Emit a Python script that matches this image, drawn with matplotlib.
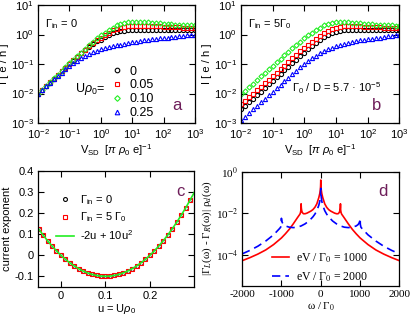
import numpy as np
import matplotlib
matplotlib.use("Agg")
import matplotlib.pyplot as plt

plt.rcParams['font.family'] = ['Liberation Sans', 'DejaVu Sans']
plt.rcParams['font.size'] = 8
plt.rcParams['mathtext.fontset'] = 'custom'
plt.rcParams['mathtext.rm'] = 'Liberation Sans'
plt.rcParams['mathtext.it'] = 'Liberation Sans:italic'

v_sd = np.logspace(-2, 3, 41)
u_labels = ['0', '0.05', '0.10', '0.25']

logI_a_u000 = [-2.00, -1.875, -1.75, -1.625, -1.50, -1.375, -1.25, -1.125, -1.00, -0.88,
               -0.76, -0.64, -0.52, -0.41, -0.31, -0.23, -0.17, -0.09, -0.02, 0.04,
               0.08, 0.11, 0.13, 0.14, 0.15, 0.152, 0.155, 0.155, 0.158, 0.158,
               0.16, 0.16, 0.163, 0.163, 0.166, 0.166, 0.166, 0.17, 0.17, 0.17, 0.172]
logI_a_u005 = [-2.00, -1.873, -1.747, -1.621, -1.496, -1.371, -1.246, -1.119, -0.99, -0.87,
               -0.75, -0.63, -0.51, -0.40, -0.29, -0.19, -0.11, -0.02, 0.07, 0.14,
               0.20, 0.24, 0.27, 0.285, 0.29, 0.295, 0.295, 0.29, 0.29, 0.285,
               0.28, 0.275, 0.27, 0.26, 0.255, 0.25, 0.245, 0.24, 0.235, 0.23, 0.225]
logI_a_u010 = [-2.00, -1.870, -1.742, -1.616, -1.489, -1.364, -1.237, -1.110, -0.98, -0.86,
               -0.73, -0.61, -0.48, -0.36, -0.24, -0.13, -0.03, 0.07, 0.16, 0.24,
               0.31, 0.36, 0.39, 0.41, 0.42, 0.425, 0.425, 0.42, 0.41, 0.40,
               0.39, 0.38, 0.37, 0.36, 0.35, 0.34, 0.335, 0.33, 0.32, 0.315, 0.31]
logI_a_u025 = [-2.00, -1.88, -1.76, -1.64, -1.52, -1.40, -1.29, -1.18, -1.07, -0.97,
               -0.88, -0.80, -0.72, -0.65, -0.59, -0.54, -0.50, -0.46, -0.43, -0.40,
               -0.37, -0.34, -0.31, -0.285, -0.26, -0.24, -0.22, -0.20, -0.18, -0.16,
               -0.145, -0.13, -0.115, -0.10, -0.085, -0.07, -0.055, -0.04, -0.025, -0.01, 0.0]

logI_b_u000 = [-2.53, -2.41, -2.29, -2.17, -2.05, -1.93, -1.81, -1.69, -1.57, -1.45,
               -1.33, -1.21, -1.09, -0.97, -0.85, -0.73, -0.61, -0.50, -0.39, -0.28,
               -0.18, -0.09, -0.01, 0.05, 0.10, 0.13, 0.15, 0.16, 0.165, 0.17,
               0.17, 0.17, 0.17, 0.17, 0.17, 0.17, 0.17, 0.17, 0.17, 0.17, 0.17]
logI_b_u005 = [-2.37, -2.25, -2.13, -2.01, -1.89, -1.77, -1.65, -1.53, -1.41, -1.29,
               -1.17, -1.05, -0.93, -0.81, -0.69, -0.57, -0.46, -0.35, -0.24, -0.14,
               -0.05, 0.04, 0.12, 0.18, 0.23, 0.26, 0.28, 0.285, 0.285, 0.28,
               0.275, 0.27, 0.265, 0.26, 0.25, 0.245, 0.24, 0.235, 0.23, 0.225, 0.22]
logI_b_u010 = [-2.02, -1.90, -1.78, -1.66, -1.54, -1.42, -1.30, -1.18, -1.06, -0.94,
               -0.82, -0.70, -0.58, -0.46, -0.35, -0.24, -0.13, -0.03, 0.07, 0.16,
               0.24, 0.31, 0.36, 0.39, 0.41, 0.42, 0.42, 0.41, 0.40, 0.39,
               0.38, 0.37, 0.36, 0.35, 0.34, 0.33, 0.32, 0.315, 0.31, 0.30, 0.29]
logI_b_u025 = [-2.90, -2.78, -2.66, -2.54, -2.42, -2.30, -2.18, -2.06, -1.94, -1.82,
               -1.70, -1.58, -1.46, -1.34, -1.22, -1.11, -1.00, -0.90, -0.80, -0.71,
               -0.63, -0.56, -0.50, -0.45, -0.40, -0.36, -0.32, -0.29, -0.26, -0.23,
               -0.20, -0.18, -0.16, -0.14, -0.12, -0.10, -0.08, -0.06, -0.04, -0.02, 0.0]

# --- panel c: current exponent vs u ---
u_vals = [-0.05, -0.04, -0.03, -0.02, -0.01, 0.0, 0.01, 0.02, 0.03, 0.04, 0.05, 0.06,
          0.07, 0.08, 0.09, 0.10, 0.11, 0.12, 0.13, 0.14, 0.15, 0.16, 0.17, 0.18,
          0.19, 0.20, 0.21, 0.22, 0.23, 0.24, 0.25, 0.26, 0.27, 0.28, 0.29]
exp_gin0 = [0.125, 0.096, 0.069, 0.044, 0.021, 0.0, -0.019, -0.036, -0.051, -0.064, -0.075,
            -0.084, -0.091, -0.096, -0.099, -0.100, -0.099, -0.096, -0.091, -0.084, -0.075,
            -0.064, -0.051, -0.036, -0.019, 0.0, 0.021, 0.044, 0.069, 0.096, 0.125, 0.156,
            0.189, 0.224, 0.261]
exp_gin5 = exp_gin0
fit_u = u_vals + [0.30]
fit_vals = exp_gin0 + [0.300]

# --- panel d: |Gamma_L - Gamma_R| rho_d (log10), omega >= 0, symmetric ---
w_1000 = [0, 5, 10, 25, 50, 100, 150, 200, 250, 300, 350, 400, 440, 470, 485, 495, 500,
          505, 515, 530, 560, 600, 700, 800, 900, 1000, 1200, 1400, 1600, 1800, 2000]
log_d_1000 = [-0.40, -0.70, -0.85, -1.05, -1.25, -1.55, -1.72, -1.83, -1.90, -1.95, -2.00,
              -2.03, -2.03, -1.97, -1.88, -1.75, -1.55, -1.85, -1.97, -2.05, -2.13, -2.24,
              -2.52, -2.78, -3.00, -3.20, -3.52, -3.78, -3.98, -4.15, -4.30]
w_2000 = [0, 5, 10, 25, 50, 100, 150, 200, 300, 400, 500, 600, 700, 800, 900, 950, 980,
          995, 1000, 1005, 1020, 1050, 1100, 1200, 1400, 1600, 1800, 2000]
log_d_2000 = [-0.80, -1.05, -1.20, -1.42, -1.62, -1.88, -2.05, -2.18, -2.38, -2.52, -2.62,
              -2.68, -2.70, -2.68, -2.62, -2.55, -2.45, -2.35, -2.25, -2.55, -2.68, -2.75,
              -2.85, -3.05, -3.35, -3.60, -3.80, -3.97]

colors = ['black', 'red', '#22ee22', 'blue']
markers = ['o', 's', 'D', '^']
tag_color = '#6e1e5a'

fig = plt.figure(figsize=(4.11, 3.18), dpi=100)
ax_a = fig.add_axes([0.0925, 0.613, 0.382, 0.371])
ax_b = fig.add_axes([0.586, 0.613, 0.386, 0.371])
ax_c = fig.add_axes([0.093, 0.098, 0.380, 0.364])
ax_d = fig.add_axes([0.589, 0.102, 0.383, 0.358])

for ax in (ax_a, ax_b, ax_c, ax_d):
    ax.tick_params(direction='in', top=True, right=True, length=4, width=0.8, pad=3)
    ax.tick_params(which='minor', length=0)
    for s in ax.spines.values():
        s.set_linewidth(0.9)

# panels a and b
for ax, series in ((ax_a, [logI_a_u000, logI_a_u005, logI_a_u010, logI_a_u025]),
                   (ax_b, [logI_b_u000, logI_b_u005, logI_b_u010, logI_b_u025])):
    for vals, c, m, lab in zip(series, colors, markers, u_labels):
        ms = 3.0 if m != 'D' else 2.6
        ax.plot(v_sd, 10 ** np.array(vals), ls='none', marker=m, ms=ms, mfc='none',
                mec=c, mew=0.8, label=lab)
    ax.set_xscale('log')
    ax.set_yscale('log')
    ax.set_xlim(1e-2, 1e3)
    ax.set_ylim(1e-3, 1e1)
    ax.set_xticks([1e-2, 1e-1, 1e0, 1e1, 1e2, 1e3])
    ax.set_yticks([1e-3, 1e-2, 1e-1, 1e0, 1e1])
    ax.set_xlabel(r'V$_{\rm SD}$  [$\pi$ $\rho_0$ e]$^{-1}$', labelpad=1)
    ax.set_ylabel('I [ e / h ]', labelpad=1)

ax_a.text(0.045, 0.84, r'Γ$_{\rm in}$ = 0', transform=ax_a.transAxes, va='center')
ax_a.text(0.236, 0.288, r'U$\rho_0$=', transform=ax_a.transAxes, va='center', fontsize=9)
ax_a.legend(loc='upper left', bbox_to_anchor=(0.43, 0.54), frameon=False, fontsize=9,
            handlelength=0.8, handletextpad=0.6, labelspacing=0.15, borderpad=0,
            markerscale=1.1)
ax_a.text(0.885, 0.153, 'a', transform=ax_a.transAxes, ha='center', va='center',
          fontsize=12, color=tag_color)

ax_b.text(0.044, 0.84, r'Γ$_{\rm in}$ = 5Γ$_0$', transform=ax_b.transAxes, va='center')
ax_b.text(0.32, 0.297, r'Γ$_0$ / D = 5.7 · 10$^{-5}$', transform=ax_b.transAxes,
          va='center')
ax_b.text(0.855, 0.153, 'b', transform=ax_b.transAxes, ha='center', va='center',
          fontsize=12, color=tag_color)

# panel c
ax_c.plot(u_vals, exp_gin0, ls='none', marker='o', ms=2.8, mfc='none', mec='black',
          mew=0.8, label=r'Γ$_{\rm in}$ = 0')
ax_c.plot(u_vals, exp_gin5, ls='none', marker='s', ms=2.8, mfc='none', mec='red',
          mew=0.8, label=r'Γ$_{\rm in}$ = 5 Γ$_0$')
ax_c.plot(fit_u, fit_vals, color='#22ee22', lw=1.2, label=r'-2u + 10u$^2$')
ax_c.set_xlim(-0.051, 0.30)
ax_c.set_ylim(-0.15, 0.4)
ax_c.set_xticks([0, 0.1, 0.2])
ax_c.set_xticklabels(['0', '0.1', '0.2'])
ax_c.set_yticks([-0.1, 0, 0.1, 0.2, 0.3, 0.4])
ax_c.set_yticklabels(['-0.1', '0', '0.1', '0.2', '0.3', '0.4'])
ax_c.set_xlabel(r'u = U$\rho_0$', labelpad=1)
ax_c.set_ylabel('current exponent', labelpad=2)
ax_c.legend(loc='upper left', bbox_to_anchor=(0.08, 0.86), frameon=False, fontsize=8,
            handlelength=1.6, handletextpad=0.5, labelspacing=0.35, borderpad=0)
ax_c.text(0.908, 0.827, 'c', transform=ax_c.transAxes, ha='center', va='center',
          fontsize=12, color=tag_color)

# panel d
w1 = np.array(w_1000)
w2 = np.array(w_2000)
ax_d.plot(np.concatenate([-w1[::-1], w1[1:]]),
          10 ** np.array(log_d_1000[::-1] + log_d_1000[1:]),
          color='red', lw=1.2, label='eV / Γ$_0$ = 1000')
ax_d.plot(np.concatenate([-w2[::-1], w2[1:]]),
          10 ** np.array(log_d_2000[::-1] + log_d_2000[1:]),
          color='blue', lw=1.2, ls=(0, (5, 3)), label='eV / Γ$_0$ = 2000')
ax_d.set_yscale('log')
ax_d.set_xlim(-2000, 2000)
ax_d.set_ylim(10 ** -5.5, 1)
serif = dict(fontfamily='Liberation Serif', math_fontfamily='stix', fontsize=8)
ax_d.set_xticks([-2000, -1000, 0, 1000, 2000],
                labels=['-2000', '-1000', '0', '1000', '2000'], **serif)
ax_d.set_yticks([1e-4, 1e-2, 1e0], labels=['10$^{-4}$', '10$^{-2}$', '10$^{0}$'], **serif)
ax_d.set_xlabel('ω / Γ$_0$', labelpad=1, **serif)
ax_d.set_ylabel('|Γ$_L$(ω) - Γ$_R$(ω)| ρ$_d$(ω)', labelpad=1, **serif)
leg = ax_d.legend(loc='upper left', bbox_to_anchor=(0.15, 0.35), frameon=False,
                  prop={'family': 'Liberation Serif', 'size': 8.5}, handlelength=1.5,
                  handletextpad=0.6, labelspacing=0.45, borderpad=0)
for t in leg.get_texts():
    t.set_math_fontfamily('stix')
ax_d.text(0.895, 0.83, 'd', transform=ax_d.transAxes, ha='center', va='center',
          fontsize=12, color=tag_color)

fig.savefig('out.png', dpi=100)
